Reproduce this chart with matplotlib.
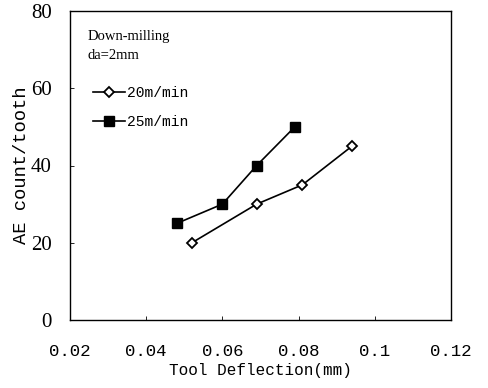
import matplotlib
matplotlib.use("Agg")
import matplotlib.pyplot as plt

x_20 = [0.052, 0.069, 0.081, 0.094]
y_20 = [20, 30, 35, 45]
x_25 = [0.048, 0.060, 0.069, 0.079]
y_25 = [25, 30, 40, 50]
xticks = [0.02, 0.04, 0.06, 0.08, 0.10, 0.12]
xticklabels = ["0.02", "0.04", "0.06", "0.08", "0.1", "0.12"]
yticks = [0, 20, 40, 60, 80]

mono = "Liberation Mono"
serif = "Liberation Serif"

fig = plt.figure(figsize=(4.88, 3.88), dpi=100)
ax = fig.add_axes([70/488, 1-320/388, 381/488, 309/388])

ax.plot(x_20, y_20, color="black", lw=1.2, marker="D", ms=5.5,
        markerfacecolor="white", markeredgecolor="black", markeredgewidth=1.3,
        label="20m/min")
ax.plot(x_25, y_25, color="black", lw=1.2, marker="s", ms=7,
        markerfacecolor="black", markeredgecolor="black", label="25m/min")

ax.set_xlim(0.02, 0.12)
ax.set_ylim(0, 80)
ax.set_xticks(xticks)
ax.set_xticklabels(xticklabels, fontfamily=mono, fontsize=12.5)
ax.set_yticks(yticks)
ax.set_yticklabels([str(v) for v in yticks], fontfamily=serif, fontsize=15)
ax.tick_params(direction="in", length=3, width=0.6, pad=13)
ax.tick_params(axis="x", pad=17)
for s in ax.spines.values():
    s.set_linewidth(1.0)

ax.set_xlabel("Tool Deflection(mm)", fontfamily=mono, fontsize=11.5, labelpad=3)
ax.set_ylabel("AE count/tooth", fontfamily=mono, fontsize=13.5, labelpad=1)

ax.text(0.045, 0.94, "Down-milling\nda=2mm", transform=ax.transAxes,
        fontfamily=serif, fontsize=10.5, va="top", ha="left", linespacing=1.6)

leg = ax.legend(loc="upper left", bbox_to_anchor=(0.045, 0.775), frameon=False,
                prop={"family": mono, "size": 10.5}, handlelength=2.2,
                handletextpad=0.1, labelspacing=1.0, borderaxespad=0)

fig.savefig("out.png", dpi=100)
